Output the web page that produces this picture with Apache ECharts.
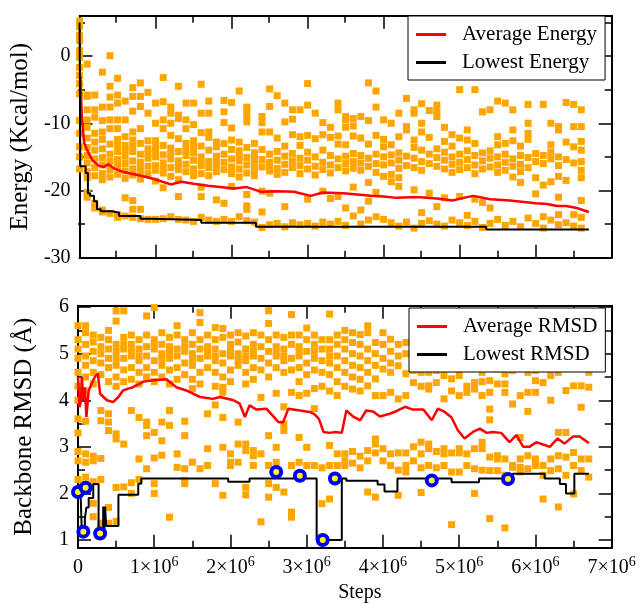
<!DOCTYPE html>
<html>
<head>
    <meta charset="utf-8"/>
    <style>
        html, body {
            margin: 0;
            padding: 0;
            background: #fff;
        }

        #main {
            width: 641px;
            height: 604px;
        }
    </style>
</head>
<body>
<div id="main"></div>
<script src="https://cdn.jsdelivr.net/npm/echarts@6/dist/echarts.min.js"></script>
<script>
    // x values are in units of 10^6 steps
    var colWidth = 0.1;

    // energy of sampled structures, one column every 0.1x10^6 steps
    var energyCols = [
        [5.2, 4.4, 3.1, 2.3, 0.8, -0.2, -1.7, -2.9, -4.1, -5.6, -9.6, -11.5, -13.5, -15, -16.8],
        [-1.2, -5.8, -6.0, -8.0, -9.5, -10.6, -12.2, -13.6, -14.8, -15.9, -17.2, -18.1, -20.3, -21.0],
        [-5.8, -8.0, -9.1, -11.5, -12.8, -14.0, -15.3, -16.6, -17.8, -21.9, -22.6],
        [-2.4, -7.6, -9.6, -11.3, -12.4, -13.8, -15.1, -16.2, -17.5, -18.4, -22.9, -23.2],
        [0.05, -4.5, -6.1, -7.6, -9.5, -10.8, -13.1, -14.6, -15.7, -16.9, -18.0, -23.4],
        [-3.3, -5.8, -7.0, -9.5, -10.8, -12.4, -13.3, -14.2, -15.4, -16.4, -17.6, -23.6, -24.0],
        [-6.7, -9.5, -12.0, -13.3, -14.1, -14.9, -16.0, -17.1, -18.2, -21.1, -23.8],
        [-4.7, -6.0, -8.2, -11.3, -12.5, -13.4, -14.2, -15.6, -16.8, -17.7, -21.5, -22.8, -24.0],
        [-4.0, -6.0, -7.5, -10.8, -13.0, -14.6, -15.8, -16.5, -17.2, -18.3, -22.8, -24.2],
        [-5.4, -8.5, -12.6, -13.8, -14.5, -15.2, -16.4, -17.5, -24.3],
        [-7.0, -10.0, -12.6, -13.4, -14.1, -15.0, -16.3, -17.0, -18.6, -24.3],
        [-3.2, -6.8, -9.5, -10.8, -13.3, -14.7, -15.9, -16.7, -17.4, -19.6, -24.2],
        [-7.6, -8.5, -10.0, -11.8, -13.7, -14.5, -15.3, -16.6, -17.9, -23.9],
        [-4.5, -8.8, -9.3, -12.3, -14.2, -15.6, -16.2, -16.9, -18.4, -20.9, -24.3],
        [-7.0, -9.5, -10.8, -13.0, -14.0, -14.8, -16.1, -17.2, -24.4],
        [-7.0, -10.2, -12.6, -13.6, -14.4, -15.5, -16.8, -17.8, -24.6],
        [-4.2, -8.5, -11.4, -13.4, -15.0, -15.8, -16.3, -17.5, -19.5, -20.9, -24.0],
        [-6.7, -8.5, -11.3, -12.1, -14.0, -15.7, -16.6, -17.8, -24.4],
        [-12.8, -13.5, -14.9, -15.6, -16.2, -17.2, -21.4, -24.6],
        [-6.6, -8.3, -9.9, -13.0, -14.6, -15.8, -16.9, -21.9, -24.3],
        [-6.9, -10.7, -12.5, -13.9, -15.3, -16.5, -17.5, -19.4, -24.6],
        [-5.2, -12.8, -14.1, -14.9, -15.6, -16.8, -18.0, -23.9],
        [-7.6, -8.0, -9.0, -9.8, -13.6, -15.1, -16.2, -17.4, -20.6, -22.3, -22.8, -24.5],
        [-13.0, -14.4, -15.2, -15.9, -16.9, -17.8, -24.7],
        [-9.0, -9.9, -11.3, -13.9, -15.4, -16.5, -20.1, -23.2, -25.5],
        [-4.9, -7.5, -11.3, -14.6, -15.8, -16.4, -17.1, -20.4, -25.1],
        [-5.9, -12.2, -14.2, -15.5, -16.7, -17.6, -24.9],
        [-7.0, -9.8, -13.4, -14.9, -16.1, -17.3, -22.4, -25.4],
        [-8.0, -9.4, -11.7, -14.5, -15.6, -16.6, -24.8],
        [-8.0, -12.0, -13.3, -15.2, -16.3, -17.5, -25.1],
        [-4.1, -7.3, -11.8, -14.3, -15.5, -16.8, -21.3, -24.9],
        [-8.5, -12.3, -15.0, -16.4, -17.7, -25.3],
        [-9.9, -11.7, -14.0, -15.8, -16.9, -20.1, -24.7],
        [-10.6, -12.1, -14.8, -16.2, -17.4, -21.2, -25.0],
        [-7.0, -8.0, -11.9, -13.1, -15.3, -16.6, -20.9, -24.6],
        [-9.0, -9.5, -10.6, -13.2, -14.9, -16.0, -17.1, -22.6, -25.2],
        [-9.3, -10.4, -11.9, -14.5, -15.7, -16.7, -19.5, -23.8],
        [-9.0, -12.2, -14.8, -15.9, -17.0, -22.9, -25.0],
        [-4.0, -9.6, -13.1, -15.2, -16.4, -18.8, -21.6, -24.4],
        [-5.2, -7.6, -11.8, -14.6, -16.0, -17.3, -20.3, -23.9],
        [-9.5, -12.4, -13.5, -15.0, -16.2, -17.9, -24.3],
        [-10.0, -13.2, -14.7, -15.9, -17.6, -18.7, -24.8],
        [-8.5, -12.0, -14.4, -15.5, -16.7, -18.1, -19.4, -25.3],
        [-6.3, -10.5, -11.0, -14.9, -16.3, -24.7],
        [-8.0, -8.5, -12.5, -13.6, -15.2, -16.6, -19.9, -25.6],
        [-7.1, -10.0, -11.3, -14.0, -15.7, -17.0, -23.3, -24.9],
        [-8.1, -12.1, -14.6, -16.0, -20.4, -24.5],
        [-7.3, -8.2, -9.0, -13.8, -15.1, -16.4, -22.4, -25.0],
        [-10.6, -12.7, -14.3, -15.5, -16.8, -21.1, -25.3],
        [-11.7, -13.4, -15.0, -16.1, -17.3, -24.4],
        [-5.0, -12.2, -14.6, -15.8, -16.9, -20.9, -24.8],
        [-11.0, -12.5, -14.1, -15.4, -16.6, -23.7, -25.2],
        [-5.0, -13.0, -14.8, -16.2, -17.5, -21.3, -24.6],
        [-8.3, -14.4, -15.6, -16.8, -21.8, -25.5],
        [-8.0, -14.1, -15.2, -16.5, -22.6, -24.9],
        [-6.7, -12.0, -13.2, -15.0, -16.2, -17.3, -24.3],
        [-7.0, -13.0, -14.6, -15.8, -17.0, -25.2],
        [-8.0, -11.0, -12.6, -15.3, -16.4, -18.0, -24.6],
        [-13.4, -14.8, -16.1, -17.2, -18.8, -25.4],
        [-7.2, -10.0, -11.5, -12.4, -15.1, -16.6, -24.1],
        [-14.5, -15.7, -18.1, -20.5, -24.9],
        [-7.2, -14.8, -16.0, -19.2, -23.9, -25.6],
        [-10.0, -13.2, -14.3, -15.3, -18.7, -24.4],
        [-10.5, -11.0, -15.0, -16.3, -17.9, -21.0, -23.6, -25.1],
        [-6.9, -12.8, -15.4, -18.5, -24.8],
        [-7.2, -10.5, -13.5, -15.9, -23.6, -25.3],
        [-8.0, -10.5, -12.7, -14.0, -15.7, -17.0, -18.1, -21.5, -24.0, -25.6]
    ];

    var avgEnergy = [
        [0.01, -3], [0.03, -9], [0.06, -12.9], [0.1, -14], [0.17, -15.5], [0.25, -16.3], [0.32, -16.5],
        [0.38, -16.1], [0.45, -16.7], [0.59, -17.3], [0.81, -17.8], [0.98, -18.3], [1.2, -19.1],
        [1.34, -18.7], [1.5, -19.0], [1.69, -19.3], [2.03, -19.7], [2.2, -19.5], [2.39, -20.2],
        [2.6, -20.1], [2.82, -20.2], [3.04, -20.8], [3.2, -20.3], [3.47, -20.4], [3.83, -20.8],
        [4.0, -20.9], [4.17, -21.1], [4.35, -21.0], [4.48, -21.0], [4.7, -21.2], [4.91, -21.5],
        [5.05, -21.1], [5.18, -20.8], [5.4, -21.3], [5.66, -21.5], [6.0, -21.9], [6.15, -22.0],
        [6.28, -22.3], [6.4, -22.3], [6.54, -22.6], [6.7, -23.2]
    ];

    var lowestEnergy = [
        [0, 5], [0.01, -16.4], [0.08, -17.4], [0.11, -20.4], [0.14, -20.8], [0.19, -21.6], [0.23, -22.8],
        [0.28, -23.1], [0.43, -23.3], [0.52, -23.8], [0.8, -24.2], [0.95, -24.4], [1.6, -24.8],
        [2.32, -25.4], [5.35, -25.8], [6.7, -25.8]
    ];

    // backbone RMSD of sampled structures, same columns
    var rmsdCols = [
        [5.6, 5.3, 5.1, 4.9, 4.6, 4.3, 4.0, 3.6, 3.3, 2.9, 2.7, 2.3],
        [5.6, 5.45, 5.2, 4.95, 4.75, 4.5, 4.2, 3.55, 2.85, 2.67, 2.35, 2.2],
        [5.4, 5.25, 5.05, 4.85, 4.6, 4.35, 2.8, 2.7, 2.25, 1.79, 1.5],
        [5.35, 5.15, 5.0, 4.8, 4.55, 3.78, 3.56, 2.75, 2.3, 1.36, 1.25],
        [5.5, 5.3, 5.1, 4.9, 4.7, 4.4, 3.71, 3.53, 3.35, 1.7, 1.36],
        [5.92, 5.7, 5.2, 5.05, 4.9, 4.75, 4.5, 4.3, 3.28, 3.17, 2.13, 1.4],
        [5.92, 5.35, 5.2, 5.1, 4.9, 4.65, 4.4, 3.06, 2.14],
        [5.4, 5.2, 5.05, 4.95, 4.7, 4.45, 3.78, 2.23, 2.0],
        [5.3, 5.1, 4.95, 4.85, 4.6, 4.35, 3.63, 2.74, 2.3],
        [5.81, 5.4, 5.15, 4.95, 4.7, 4.5, 3.46, 3.53, 3.24, 2.53],
        [5.99, 5.3, 5.2, 5.1, 4.85, 4.6, 4.4, 3.31, 2.76, 2.21, 2.0],
        [5.45, 5.2, 5.0, 4.9, 4.75, 4.5, 3.13, 3.53, 2.82],
        [5.35, 5.15, 5.05, 4.9, 4.65, 4.35, 3.78, 3.46, 1.49],
        [5.6, 5.4, 5.1, 4.95, 4.7, 4.45, 2.85, 2.56],
        [5.3, 5.15, 5.05, 4.8, 4.55, 3.55, 3.24, 2.53, 2.28, 2.21],
        [5.45, 5.2, 5.0, 4.9, 4.75, 4.45, 4.25, 2.67],
        [5.88, 5.67, 5.3, 5.1, 4.9, 4.6, 4.35, 2.53],
        [5.4, 5.15, 5.05, 4.95, 4.7, 3.71, 2.96, 2.6],
        [5.56, 5.3, 5.1, 4.95, 4.85, 4.6, 4.3, 3.9, 2.21],
        [5.54, 5.35, 5.0, 4.8, 4.5, 4.17, 4.28, 3.63, 2.99, 1.96],
        [5.4, 5.2, 5.05, 4.95, 4.65, 4.4, 2.85, 2.67, 2.6],
        [5.45, 5.25, 5.0, 4.88, 4.75, 3.53, 3.06, 2.67],
        [5.38, 5.1, 4.95, 4.85, 4.6, 4.35, 3.06, 2.92, 2.13, 1.97],
        [5.45, 5.2, 5.05, 4.95, 4.7, 4.45, 2.81, 2.92, 2.6],
        [5.4, 5.15, 4.9, 4.65, 4.06, 2.85, 1.39],
        [5.92, 5.65, 5.3, 5.05, 4.8, 4.5, 3.24, 2.6, 2.21, 1.92],
        [5.4, 5.15, 5.05, 4.95, 4.7, 4.15, 2.67, 2.99, 2.13],
        [5.35, 5.1, 4.95, 4.85, 4.6, 3.86, 3.49, 3.35, 2.03],
        [5.84, 5.4, 5.2, 4.9, 4.65, 4.17, 2.6, 1.6, 1.49],
        [5.4, 5.15, 5.05, 4.95, 4.7, 4.4, 4.1, 3.2, 2.67],
        [5.55, 5.3, 5.05, 4.8, 4.55, 4.15, 2.6, 2.99],
        [5.4, 5.2, 5.05, 4.9, 4.65, 4.25, 3.82, 2.6],
        [5.3, 5.1, 4.85, 4.6, 4.3, 2.55, 1.78],
        [5.85, 5.3, 5.1, 4.95, 4.8, 4.55, 4.2, 3.03, 2.6, 1.88],
        [5.4, 5.2, 4.95, 4.7, 4.4, 4.1, 2.85, 2.6],
        [5.5, 5.3, 5.1, 4.85, 4.6, 4.3, 2.85, 2.7, 2.6],
        [5.45, 5.24, 5.0, 4.75, 4.5, 4.24, 2.9, 2.65],
        [5.41, 5.2, 4.95, 4.7, 4.45, 4.2, 2.8, 2.55],
        [5.6, 5.45, 5.1, 4.85, 4.6, 4.31, 2.92, 2.7, 2.03],
        [5.24, 5.0, 4.75, 4.46, 4.1, 3.17, 3.06, 2.87, 1.92],
        [5.45, 5.2, 4.9, 4.67, 4.1, 2.96, 2.7],
        [5.31, 5.05, 4.8, 4.6, 4.17, 2.85, 2.6],
        [5.2, 4.95, 4.74, 4.03, 2.87, 2.5, 1.96],
        [5.24, 5.0, 4.57, 4.1, 2.87, 2.6, 2.46],
        [5.1, 4.9, 4.64, 4.38, 3.0, 2.7],
        [4.9, 4.6, 4.3, 3.1, 2.85, 2.55, 2.02],
        [4.85, 4.6, 4.31, 4.24, 3.06, 2.96, 2.6],
        [4.75, 4.64, 4.38, 2.9, 2.55],
        [4.8, 4.53, 4.03, 2.96, 2.85, 2.6],
        [4.7, 4.46, 4.2, 2.87, 2.46, 1.33],
        [4.8, 4.53, 4.1, 2.96, 2.87, 2.46],
        [4.7, 4.3, 4.17, 2.85, 2.6],
        [4.75, 4.38, 4.24, 2.96, 2.53, 2.0],
        [4.6, 4.4, 4.1, 3.1, 2.96, 2.5],
        [4.42, 4.17, 3.81, 3.58, 2.78, 2.49, 1.46],
        [4.67, 4.35, 2.81, 2.74, 2.49],
        [4.57, 4.35, 4.17, 2.74, 2.39, 1.26],
        [4.64, 3.92, 2.6, 2.56],
        [4.1, 3.2, 2.74, 2.56, 2.46],
        [4.6, 4.17, 3.76, 2.81, 2.53],
        [4.64, 4.42, 4.17, 2.74, 2.6],
        [4.38, 2.6, 2.39, 1.88],
        [4.53, 4.0, 2.74, 2.49],
        [4.6, 3.31, 2.81, 2.53, 1.71],
        [4.21, 3.31, 2.78, 2.39],
        [4.31, 2.88, 2.6, 1.99],
        [4.31, 3.85, 2.74, 2.49],
        [4.6, 4.28, 2.74, 2.35]
    ];

    var avgRmsd = [
        [0.0, 4.5], [0.02, 3.85], [0.04, 4.0], [0.05, 4.5], [0.07, 4.0], [0.09, 4.28], [0.11, 3.64],
        [0.14, 4.21], [0.18, 4.36], [0.22, 4.5], [0.26, 4.57], [0.29, 4.14], [0.38, 4.0], [0.46, 3.96],
        [0.53, 4.07], [0.59, 4.21], [0.66, 4.25], [0.72, 4.28], [0.86, 4.4], [0.99, 4.43], [1.16, 4.45],
        [1.29, 4.28], [1.42, 4.21], [1.6, 4.07], [1.77, 4.03], [1.86, 4.07], [2.04, 4.0], [2.12, 3.93],
        [2.19, 3.64], [2.25, 3.89], [2.34, 3.8], [2.47, 3.82], [2.63, 3.53], [2.69, 3.53], [2.76, 3.82],
        [2.91, 3.78], [3.04, 3.75], [3.1, 3.7], [3.16, 3.6], [3.22, 3.32], [3.3, 3.3], [3.38, 3.32],
        [3.46, 3.3], [3.52, 3.78], [3.61, 3.65], [3.7, 3.57], [3.78, 3.78], [3.87, 3.76], [3.96, 3.65],
        [4.09, 3.71], [4.18, 3.77], [4.29, 3.86], [4.39, 3.8], [4.53, 3.8], [4.64, 3.57], [4.72, 3.82],
        [4.81, 3.75], [4.9, 3.63], [4.98, 3.36], [5.07, 3.18], [5.18, 3.32], [5.27, 3.39], [5.36, 3.3],
        [5.44, 3.32], [5.55, 3.3], [5.66, 3.1], [5.75, 3.25], [5.84, 3.0], [5.92, 3.0], [6.01, 3.1],
        [6.1, 3.05], [6.19, 3.0], [6.29, 3.18], [6.38, 3.07], [6.49, 3.22], [6.58, 3.22], [6.7, 3.08]
    ];

    var lowestRmsd = [
        [0, 2.03], [0.03, 2.2], [0.05, 1.18], [0.09, 1.45], [0.11, 1.7], [0.14, 1.9], [0.2, 2.2],
        [0.27, 1.16], [0.33, 1.72], [0.345, 1.2], [0.355, 1.72], [0.37, 1.3], [0.53, 1.97], [0.79, 2.21],
        [0.83, 2.32], [1.97, 2.25], [2.25, 2.32], [3.13, 1.0], [3.46, 2.32], [3.52, 2.27], [3.93, 2.19],
        [4.02, 2.04], [4.19, 2.32], [4.9, 2.24], [5.26, 2.32], [5.7, 2.42], [6.12, 2.32], [6.32, 2.2],
        [6.4, 2.0], [6.51, 2.42], [6.7, 2.42]
    ];

    // structures marked with circles on the lowest RMSD curve
    var bestHits = [
        [0, 2.03], [0.07, 1.18], [0.1, 2.12], [0.29, 1.14], [2.6, 2.46], [2.91, 2.38],
        [3.21, 1.0], [3.37, 2.32], [4.64, 2.28], [5.64, 2.31]
    ];

    var xMajor = [0, 1, 2, 3, 4, 5, 6, 7];
    var xMinor = [0.5, 1.5, 2.5, 3.5, 4.5, 5.5, 6.5];

    var FONT = 'Liberation Serif';

    var panels = [
        {top: 15.7, yMin: -30, yMax: 6, yMajor: [-30, -20, -10, 0], yMinor: [-25, -15, -5, 5],
            yName: 'Energy (Kcal/mol)', xLabels: false},
        {top: 305.7, yMin: 0.835, yMax: 6.03, yMajor: [1, 2, 3, 4, 5, 6], yMinor: [1.5, 2.5, 3.5, 4.5, 5.5],
            yName: 'Backbone RMSD (\u00C5)', xLabels: true}
    ];

    function columnsToPoints(cols) {
        var pts = [];
        cols.forEach(function (ys, k) {
            ys.forEach(function (y) {
                pts.push([+(k * colWidth).toFixed(2), y]);
            });
        });
        return pts;
    }

    var grids = [], xAxes = [], yAxes = [];
    var frameLine = {show: true, onZero: false, lineStyle: {color: '#000', width: 2}};
    var noLine = {show: false, onZero: false};

    function tick(values, len) {
        return {show: true, inside: true, length: len, customValues: values, lineStyle: {color: '#000', width: 1.5}};
    }

    panels.forEach(function (p, i) {
        var box = {left: 78, top: p.top, width: 533.7, height: 242};
        grids.push(box, Object.assign({}, box));
        var main = 2 * i, minor = 2 * i + 1;
        var xBase = {type: 'value', min: 0, max: 7, splitLine: {show: false}, axisLabel: {show: false}};
        xAxes.push(Object.assign({}, xBase, {
            gridIndex: main, position: 'bottom', axisLine: frameLine, axisTick: tick(xMajor, 13),
            axisLabel: {
                show: p.xLabels, customValues: xMajor, margin: 8,
                formatter: function (v) {
                    return v === 0 ? '{n|0}' : '{n|' + v + '\u00D710}{s|6}';
                },
                rich: {
                    n: {fontFamily: FONT, fontSize: 20, color: '#000', lineHeight: 24},
                    s: {fontFamily: FONT, fontSize: 14, color: '#000', padding: [0, 0, 10, 0]}
                }
            },
            name: p.xLabels ? 'Steps' : '', nameLocation: 'middle', nameGap: 35,
            nameTextStyle: {fontFamily: FONT, fontSize: 20, color: '#000', padding: [0, 0, 0, 30]}
        }));
        xAxes.push(Object.assign({}, xBase, {
            gridIndex: main, position: 'top', axisLine: frameLine, axisTick: tick(xMajor, 13)
        }));
        xAxes.push(Object.assign({}, xBase, {
            gridIndex: minor, position: 'bottom', axisLine: noLine, axisTick: tick(xMinor, 7)
        }));
        xAxes.push(Object.assign({}, xBase, {
            gridIndex: minor, position: 'top', axisLine: noLine, axisTick: tick(xMinor, 7)
        }));

        var yBase = {type: 'value', min: p.yMin, max: p.yMax, splitLine: {show: false}, axisLabel: {show: false}};
        yAxes.push(Object.assign({}, yBase, {
            gridIndex: main, position: 'left', axisLine: frameLine, axisTick: tick(p.yMajor, 13),
            axisLabel: {show: true, customValues: p.yMajor, margin: 9, fontFamily: FONT, fontSize: 20, color: '#000'},
            name: p.yName, nameLocation: 'middle', nameGap: 41,
            nameTextStyle: {fontFamily: FONT, fontSize: 25, color: '#000'}
        }));
        yAxes.push(Object.assign({}, yBase, {
            gridIndex: main, position: 'right', axisLine: frameLine, axisTick: tick(p.yMajor, 13)
        }));
        yAxes.push(Object.assign({}, yBase, {
            gridIndex: minor, position: 'left', axisLine: noLine, axisTick: tick(p.yMinor, 7)
        }));
        yAxes.push(Object.assign({}, yBase, {
            gridIndex: minor, position: 'right', axisLine: noLine, axisTick: tick(p.yMinor, 7)
        }));
    });

    function legendFor(names, left, top) {
        return {
            data: names, left: left, top: top, orient: 'vertical',
            padding: [8, 8, 7, 8], itemGap: 7, itemWidth: 30, itemHeight: 3, icon: 'rect',
            backgroundColor: '#fff', borderColor: '#000', borderWidth: 1, z: 10,
            formatter: function (name) {
                return '{t|' + name + '}';
            },
            textStyle: {rich: {t: {fontFamily: FONT, fontSize: 21, color: '#000', padding: [0, 0, 0, 11]}}}
        };
    }

    var chart = echarts.init(document.getElementById('main'), null, {renderer: 'canvas'});
    chart.setOption({
        animation: false,
        backgroundColor: '#fff',
        grid: grids,
        xAxis: xAxes,
        yAxis: yAxes,
        legend: [
            legendFor(['Average Energy', 'Lowest Energy'], 408, 16),
            legendFor(['Average RMSD', 'Lowest RMSD'], 409, 308)
        ],
        series: [{
            type: 'scatter', xAxisIndex: 0, yAxisIndex: 0, symbol: 'rect', symbolSize: 7,
            itemStyle: {color: '#ffa500', opacity: 1}, data: columnsToPoints(energyCols)
        }, {
            name: 'Average Energy', type: 'line', xAxisIndex: 0, yAxisIndex: 0, showSymbol: false,
            lineStyle: {color: '#ff0000', width: 2.5}, itemStyle: {color: '#ff0000'}, data: avgEnergy
        }, {
            name: 'Lowest Energy', type: 'line', step: 'end', xAxisIndex: 0, yAxisIndex: 0, showSymbol: false,
            lineStyle: {color: '#000', width: 2}, itemStyle: {color: '#000'}, data: lowestEnergy
        }, {
            type: 'scatter', xAxisIndex: 4, yAxisIndex: 4, symbol: 'rect', symbolSize: 7,
            itemStyle: {color: '#ffa500', opacity: 1}, data: columnsToPoints(rmsdCols)
        }, {
            name: 'Average RMSD', type: 'line', xAxisIndex: 4, yAxisIndex: 4, showSymbol: false,
            lineStyle: {color: '#ff0000', width: 2.5}, itemStyle: {color: '#ff0000'}, data: avgRmsd
        }, {
            name: 'Lowest RMSD', type: 'line', step: 'end', xAxisIndex: 4, yAxisIndex: 4, showSymbol: false,
            lineStyle: {color: '#000', width: 2}, itemStyle: {color: '#000'}, data: lowestRmsd
        }, {
            type: 'scatter', xAxisIndex: 4, yAxisIndex: 4, symbol: 'circle', symbolSize: 10, z: 5,
            itemStyle: {color: '#ffff00', borderColor: '#0000ff', borderWidth: 4, opacity: 1}, data: bestHits
        }]
    });
</script>
</body>
</html>
